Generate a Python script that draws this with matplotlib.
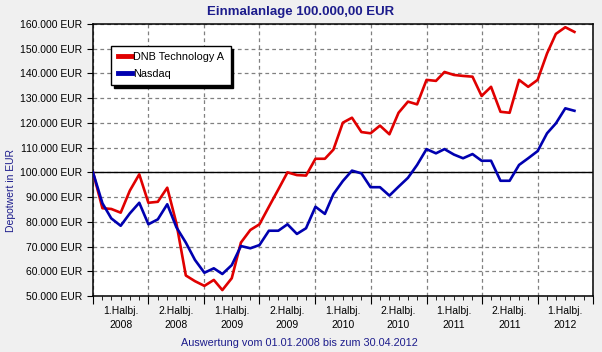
import pandas as pd
import matplotlib
matplotlib.use("Agg")
import matplotlib.pyplot as plt
import matplotlib.dates as mdates
from matplotlib.ticker import FuncFormatter, MultipleLocator, NullFormatter

# monthly portfolio value, start 01.01.2008 with 100.000 EUR
dnb = [100.0, 85.5, 85.2, 83.7, 92.6, 99.2, 87.7, 88.1, 93.8, 79.4,
       58.3, 56.0, 54.1, 56.5, 52.4, 57.2, 71.6, 76.7, 79.0, 86.1,
       93.1, 100.0, 98.9, 98.7, 105.5, 105.5, 109.2, 120.1, 122.1, 116.3,
       115.8, 118.9, 115.4, 124.1, 128.6, 127.5, 137.4, 137.0, 140.6, 139.4,
       139.0, 138.7, 130.9, 134.6, 124.5, 124.1, 137.4, 134.6, 137.4, 148.1,
       156.0, 158.7, 156.8]
nasdaq = [100.0, 87.5, 81.4, 78.4, 83.4, 87.7, 79.0, 81.0, 87.1, 77.8,
          71.6, 64.6, 59.4, 61.2, 58.9, 62.5, 70.2, 69.3, 70.6, 76.4,
          76.4, 79.0, 75.1, 77.4, 86.1, 83.2, 91.2, 96.5, 100.7, 99.6,
          94.0, 94.0, 90.6, 94.2, 97.8, 103.0, 109.4, 107.7, 109.4, 107.2,
          105.7, 107.4, 104.7, 104.7, 96.6, 96.6, 103.0, 105.7, 108.6, 115.8,
          119.8, 125.9, 124.9]
dates = pd.date_range("2008-01-01", periods=len(dnb), freq="MS")
half_labels = ["1.Halbj.\n2008", "2.Halbj.\n2008", "1.Halbj.\n2009", "2.Halbj.\n2009",
               "1.Halbj.\n2010", "2.Halbj.\n2010", "1.Halbj.\n2011", "2.Halbj.\n2011",
               "1.Halbj.\n2012"]

plt.rcParams["font.family"] = ["Liberation Sans", "DejaVu Sans"]
navy = "#1c1c8c"

fig = plt.figure(figsize=(6.02, 3.52), dpi=100, facecolor="#f0f0f0")
ax = fig.add_axes([93 / 602, 56 / 352, 500 / 602, 272 / 352])
ax.set_facecolor("white")

ax.plot(dates, [v * 1000 for v in dnb], color="#e00000", lw=1.9, label="DNB Technology A", zorder=3)
ax.plot(dates, [v * 1000 for v in nasdaq], color="#0000b0", lw=1.9, label="Nasdaq", zorder=3)
ax.axhline(100000, color="black", lw=1, zorder=2)

ax.set_xlim(pd.Timestamp("2008-01-01"), pd.Timestamp("2012-07-01"))
ax.set_ylim(50000, 160000)
ax.yaxis.set_major_locator(MultipleLocator(10000))
ax.yaxis.set_major_formatter(FuncFormatter(lambda v, p: f"{int(v):,} EUR".replace(",", ".")))
ax.xaxis.set_major_locator(mdates.MonthLocator(bymonth=[1, 7]))
ax.xaxis.set_minor_locator(mdates.MonthLocator())
ax.xaxis.set_major_formatter(NullFormatter())
ax.tick_params(axis="y", labelsize=7.5, length=4, color="black")
ax.tick_params(axis="x", which="major", length=6)
ax.tick_params(axis="x", which="minor", length=3)
ax.grid(True, which="major", color="#808080", ls=(0, (3, 2.5)), lw=0.9)
for s in ax.spines.values():
    s.set_linewidth(1.1)

# half-year labels centred between boundaries
starts = pd.date_range("2008-01-01", periods=len(half_labels), freq="6MS")
for st, lab in zip(starts, half_labels):
    mid = st + (st + pd.DateOffset(months=6) - st) / 2
    ax.text(mid, -0.037, lab, transform=ax.get_xaxis_transform(), ha="center", va="top",
            fontsize=7.5, linespacing=1.5)

leg = ax.legend(loc="upper left", bbox_to_anchor=(0.036, 0.92), fontsize=7.8, frameon=True,
                fancybox=False, edgecolor="black", handlelength=1.3, handletextpad=0.15,
                borderpad=0.6, labelspacing=0.6, borderaxespad=0,
                shadow={"color": "black", "alpha": 1})
leg.get_frame().set_linewidth(1)
for h in leg.get_lines():
    h.set_linewidth(3.5)

fig.text(0.5, 0.965, "Einmalanlage 100.000,00 EUR", ha="center", va="center",
         fontsize=9.5, fontweight="bold", color=navy)
fig.text(0.018, 0.46, "Depotwert in EUR", rotation=90, ha="center", va="center",
         fontsize=7.5, color=navy)
fig.text(0.498, 0.025, "Auswertung vom 01.01.2008 bis zum 30.04.2012", ha="center",
         va="center", fontsize=7.8, color=navy)

fig.savefig("out.png", dpi=100, facecolor=fig.get_facecolor())
